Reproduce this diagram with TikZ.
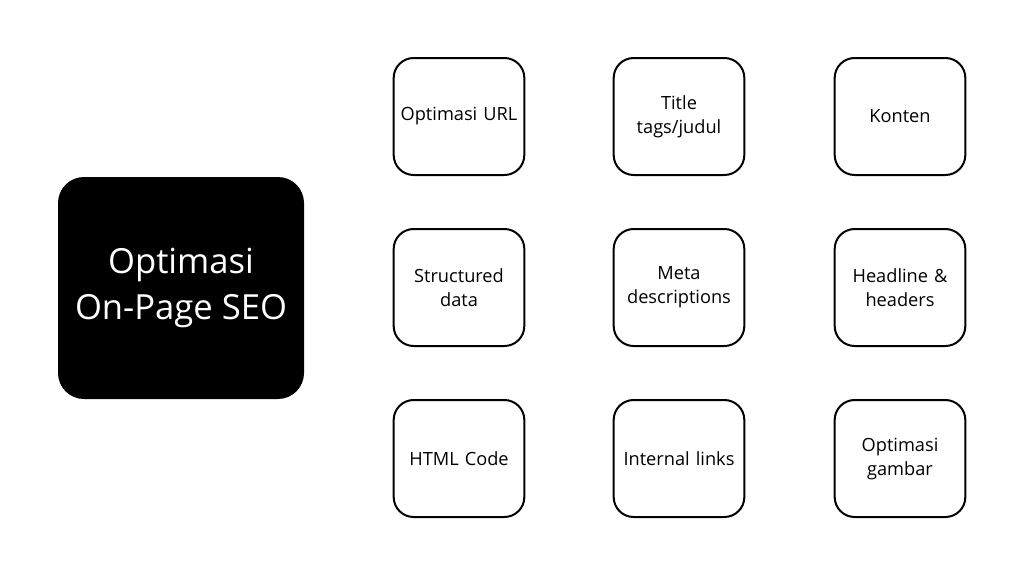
\documentclass[tikz,border=0pt]{standalone}
\usepackage{fontspec}
\setmainfont{Open Sans}
\begin{document}
\begin{tikzpicture}[x=1pt,y=-1pt,
  item/.style={draw=black,line width=2pt,rounded corners=20pt,minimum width=130pt,minimum height=117pt,align=center,font=\fontsize{18.2}{24}\selectfont,text width=124pt},
  main/.style={fill=black,rounded corners=26pt,minimum width=246pt,minimum height=222pt,align=center,text=white,font=\fontsize{34.6}{46}\selectfont}]
\useasboundingbox (0,0) rectangle (1024,576);
\node[main] (m) at (181,288) {Optimasi\\On-Page SEO};
\node[item] (a1) at (459,116.5) {Optimasi URL};
\node[item] (a2) at (679,116.5) {Title\\tags/judul};
\node[item] (a3) at (900,116.5) {Konten};
\node[item] (b1) at (459,287.5) {Structured\\data};
\node[item] (b2) at (679,287.5) {Meta\\descriptions};
\node[item] (b3) at (900,287.5) {Headline \&\\headers};
\node[item] (c1) at (459,458.5) {HTML Code};
\node[item] (c2) at (679,458.5) {Internal links};
\node[item] (c3) at (900,458.5) {Optimasi\\gambar};
\end{tikzpicture}
\end{document}
